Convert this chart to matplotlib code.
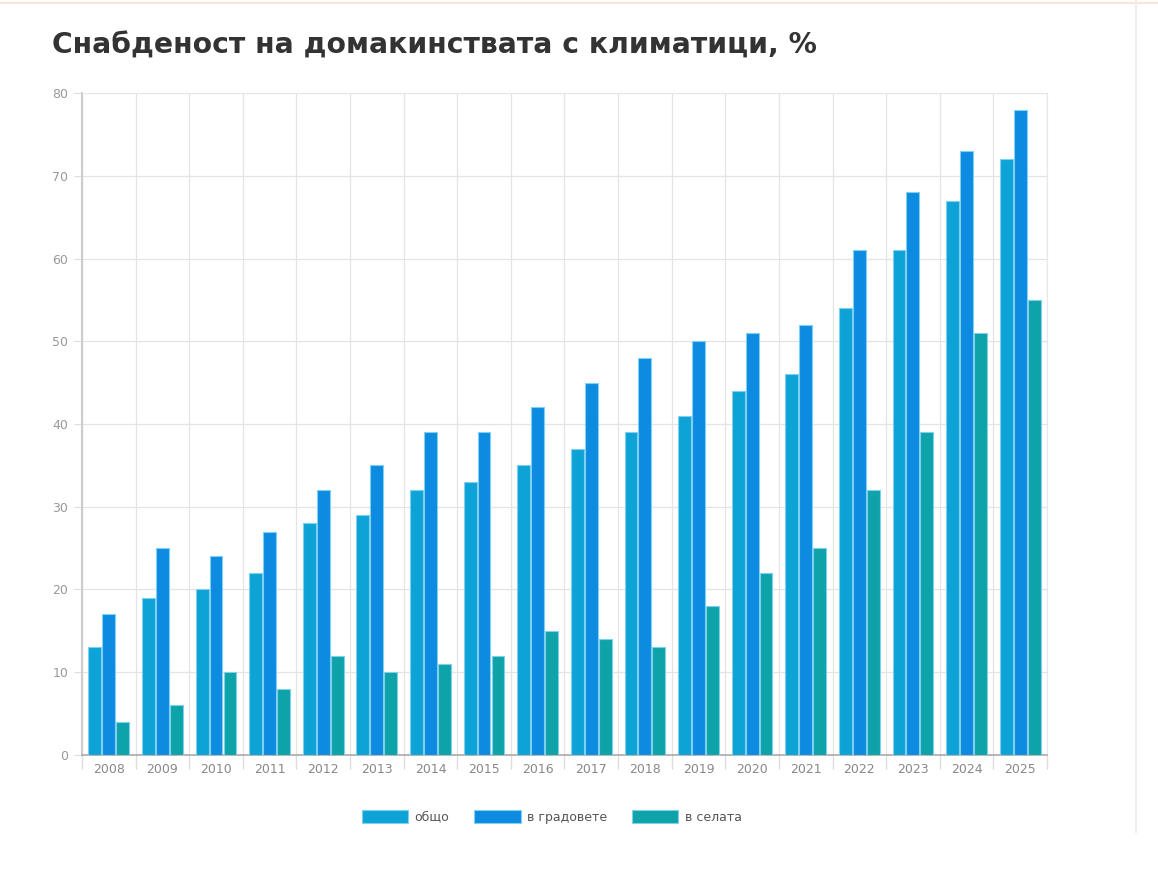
import numpy as np
import matplotlib.pyplot as plt
from matplotlib.lines import Line2D

years = ['2008', '2009', '2010', '2011', '2012', '2013', '2014', '2015', '2016',
         '2017', '2018', '2019', '2020', '2021', '2022', '2023', '2024', '2025']
total = [13, 19, 20, 22, 28, 29, 32, 33, 35, 37, 39, 41, 44, 46, 54, 61, 67, 72]
cities = [17, 25, 24, 27, 32, 35, 39, 39, 42, 45, 48, 50, 51, 52, 61, 68, 73, 78]
villages = [4, 6, 10, 8, 12, 10, 11, 12, 15, 14, 13, 18, 22, 25, 32, 39, 51, 55]
series_names = ['общо', 'в градовете', 'в селата']
colors = ['#0ea3d6', '#0d8be0', '#0ea3a8']

fig = plt.figure(figsize=(11.58, 8.85), dpi=100)
ax = fig.add_axes([0.0708, 0.1469, 0.8333, 0.748])

x = np.arange(len(years))
w = 0.24
for k, vals in enumerate([total, cities, villages]):
    ax.bar(x + (k - 1) * (w + 0.02), vals, width=w, color=colors[k],
           edgecolor='#7fd0f0', linewidth=0.8, label=series_names[k], zorder=3)

ax.set_xlim(-0.5, len(years) - 0.5)
ax.set_ylim(0, 80)
ax.set_yticks(range(0, 81, 10))
ax.set_xticks(np.arange(len(years) + 1) - 0.5)
ax.set_xticklabels([])
ax.set_xticks(x, minor=True)
ax.set_xticklabels(years, minor=True)
ax.tick_params(axis='x', which='major', length=10, color='#dddddd', width=1)
ax.tick_params(axis='x', which='minor', length=0, pad=6, labelsize=9, labelcolor='#888888')
ax.tick_params(axis='y', length=6, color='#dddddd', pad=4, labelsize=9, labelcolor='#999999')
ax.grid(True, which='major', color='#e4e4e4', linewidth=0.9, zorder=0)
for s in ['top', 'right']:
    ax.spines[s].set_color('#e8e8e8')
ax.spines['left'].set_color('#cccccc')
ax.spines['left'].set_linewidth(1.5)
ax.spines['bottom'].set_color('#aaaaaa')
ax.spines['bottom'].set_linewidth(1.2)

fig.text(0.045, 0.949, 'Снабденост на домакинствата с климатици, %', fontsize=20.3,
         fontweight='bold', color='#333333', family=['DejaVu Sans'],
         va='center')

leg = ax.legend(loc='upper center', bbox_to_anchor=(0.487, -0.066), ncol=3, frameon=False,
                handlelength=3.7, handleheight=1.2, columnspacing=2.0, handletextpad=0.5,
                fontsize=9, labelcolor='#555555')

# page decoration
fig.add_artist(Line2D([0, 1], [0.997, 0.997], color='#fbe3d9', linewidth=1.5))
fig.add_artist(Line2D([0.981, 0.981], [0.06, 1.0], color='#eeeeee', linewidth=1.5))

fig.savefig('out.png', dpi=100)
